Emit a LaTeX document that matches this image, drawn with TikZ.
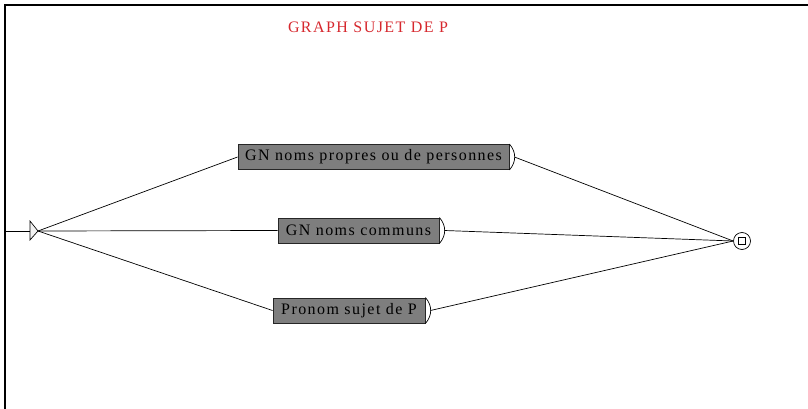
\documentclass[tikz,border=0pt]{standalone}
\usepackage{fontspec}
\setmainfont{Liberation Serif}
\newfontfamily\boxfont[LetterSpace=9]{Liberation Serif}
\definecolor{titlered}{RGB}{214,40,46}
\definecolor{boxgray}{RGB}{126,126,126}
\begin{document}
\begin{tikzpicture}[x=1pt,y=-1pt,line width=0.7pt,
    boite/.style={draw=black!85,line width=0.9pt,fill=boxgray,rectangle,minimum height=25pt,inner sep=2pt,font=\boxfont\fontsize{16}{19}\selectfont},
    etatfinal/.style={draw,circle,minimum size=17pt,inner sep=0pt,line width=0.7pt}]
  \useasboundingbox (0,0) rectangle (808,409);
  % cadre
  \draw [line width=2pt] (5,409)--(5,5)--(808,5);
  \node [anchor=base,text=titlered,font=\boxfont\fontsize{16}{19}\selectfont] (titre) at (368,33) {GRAPH SUJET DE P};
  % etat initial
  \coordinate (bord) at (5,231);
  \coordinate (init) at (38,231);
  \coordinate (initg) at (30,231);
  \draw [fill=gray!10] (30,221)--(init)--(30,240)--cycle;
  \draw (bord)--(initg);
  % boites
  \node [boite,minimum width=271pt] (gnpropre) at (373.5,157) {GN noms propres ou de personnes};
  \node [boite,minimum width=161pt] (gncommun) at (358.5,230.5) {GN noms communs};
  \node [boite,minimum width=152pt] (pronom) at (349,310.5) {Pronom sujet de P};
  % etat final
  \node [etatfinal] (final) at (742,241) {};
  \draw (final.center) +(-3.5,-3.5) rectangle +(3.5,3.5);
  \foreach \n in {gnpropre,gncommun,pronom} {
    \draw (\n.north east) .. controls +(7,8) and +(7,-8) .. (\n.south east);
    \coordinate (\n-sortie) at ([xshift=5pt]\n.east);
    \draw (init)--(\n.west);
    \draw (\n-sortie)--(final.west);
  }
\end{tikzpicture}
\end{document}
